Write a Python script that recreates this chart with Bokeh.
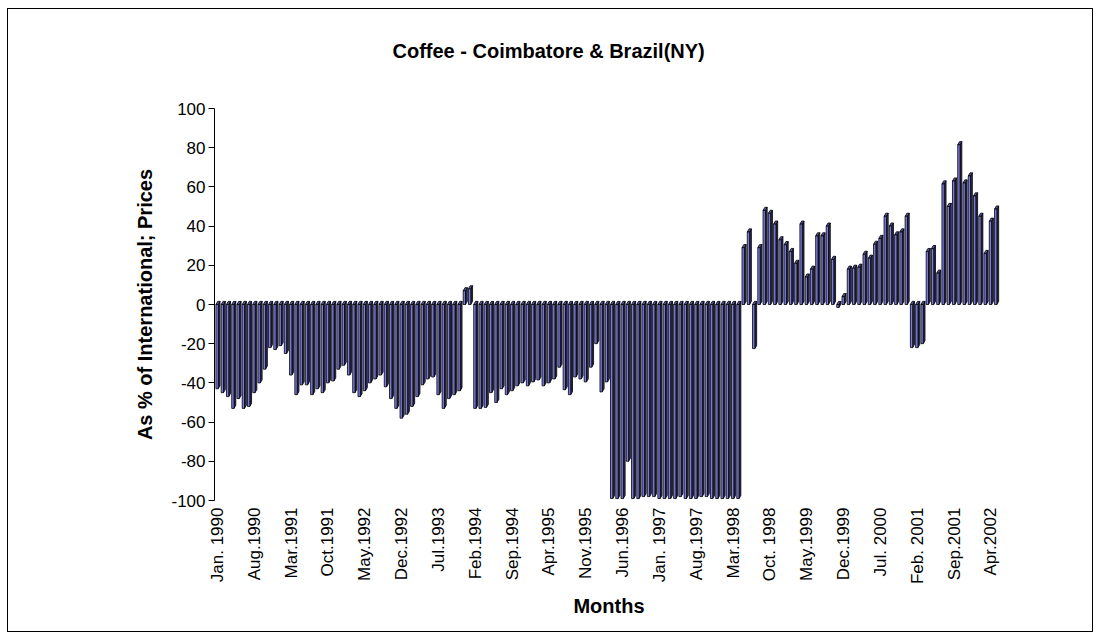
import math
from bokeh.plotting import figure
from bokeh.models import FixedTicker, Range1d, InlineStyleSheet, Title
from bokeh.embed import file_html
from bokeh.resources import INLINE

# Monthly values, Jan 1990 .. May 2002 (domestic price as % of international)
v1990 = [-43, -45, -47, -53, -48, -53, -52, -45, -40, -33, -22, -23]
v1991 = [-21, -25, -36, -46, -41, -41, -46, -43, -45, -40, -39, -33]
v1992 = [-31, -36, -45, -47, -44, -40, -38, -36, -42, -48, -53, -58]
v1993 = [-56, -52, -47, -41, -38, -37, -46, -53, -48, -46, -44, 7]
v1994 = [8, -53, -53, -52.5, -45, -50, -43, -46, -44, -41.5, -40, -41.5]
v1995 = [-39.5, -38.5, -41.5, -40, -38, -32, -43.5, -46, -37, -38, -39.5, -32]
v1996 = [-20, -44.6, -39.5, -99, -99, -99, -80, -99, -99, -98, -98, -98]
v1997 = [-99, -99, -99, -99, -98, -99, -99, -99, -98, -98, -99, -99]
v1998 = [-99, -99, -99, -99, 29, 37, -22.5, 29, 48, 46.5, 41, 33]
v1999 = [30.5, 27, 21, 41, 14, 18, 35, 35, 40, 23, -1.5, 4]
v2000 = [18, 18.5, 19, 25.6, 23.6, 30.7, 33.7, 45, 40, 35.5, 37, 45]
v2001 = [-22, -22, -20, 27, 28.5, 16, 61.5, 50, 63, 81.5, 62, 65.6]
v2002 = [55.4, 45, 26, 42.5, 48.7]

values = v1990 + v1991 + v1992 + v1993 + v1994 + v1995 + v1996 + v1997 + v1998 + v1999 + v2000 + v2001 + v2002

tick_labels = ["Jan. 1990", "Aug.1990", "Mar.1991", "Oct.1991", "May.1992", "Dec.1992",
               "Jul.1993", "Feb.1994", "Sep.1994", "Apr.1995", "Nov.1995", "Jun.1996",
               "Jan. 1997", "Aug.1997", "Mar.1998", "Oct. 1998", "May.1999", "Dec.1999",
               "Jul. 2000", "Feb. 2001", "Sep.2001", "Apr.2002"]
tick_step = 7
y_ticks = [-100, -80, -60, -40, -20, 0, 20, 40, 60, 80, 100]

FONT = "Liberation Sans"

# 3D bar geometry (in data units)
FL, FR = -0.30, 0.14
DX = 0.34
DY = 1.6

fl, fr, fb, ft = [], [], [], []
side_xs, side_ys, top_xs, top_ys = [], [], [], []
for i, v in enumerate(values):
    l, r = i + FL, i + FR
    b, t = min(0, v), max(0, v)
    fl.append(l); fr.append(r); fb.append(b); ft.append(t)
    side_xs.append([r, r, r + DX, r + DX])
    side_ys.append([b, t, t + DY, b + DY])
    top_xs.append([l, r, r + DX, l + DX])
    top_ys.append([t, t, t + DY, t + DY])

p = figure(width=1084, height=622,
           x_range=Range1d(-0.57, 149.4), y_range=Range1d(-100, 100),
           output_backend="svg", toolbar_location=None,
           min_border_left=206, min_border_right=91,
           min_border_top=99, min_border_bottom=133)
p.stylesheets = [InlineStyleSheet(css=":host { margin: 8px 0 0 7px !important; border: 1.5px solid black !important; box-sizing: content-box !important; }")]
p.outline_line_color = None
p.grid.visible = False
p.background_fill_color = "white"
p.border_fill_color = "white"

p.patches(side_xs, side_ys, fill_color="#2c2c58", line_color="black", line_width=0.8)
p.patches(top_xs, top_ys, fill_color="#5858a8", line_color="black", line_width=0.8)
p.quad(left=fl, right=fr, bottom=fb, top=ft, fill_color="#7c7ce0",
       line_color="black", line_width=0.8)

# Title: empty default title, a blank spacer next to the frame, then the real title
p.title.text = ""
p.title.standoff = 0
p.add_layout(Title(text=" ", text_font_size="10px", standoff=24), "above")
p.add_layout(Title(text="Coffee - Coimbatore & Brazil(NY)", text_font=FONT,
                   text_font_size="20px", text_font_style="bold", text_color="black",
                   align="left", offset=178, standoff=20), "above")

# X axis
xa = p.xaxis[0]
xa.ticker = FixedTicker(ticks=[k * tick_step for k in range(len(tick_labels))])
xa.major_label_overrides = {k * tick_step: lab for k, lab in enumerate(tick_labels)}
xa.major_label_orientation = math.pi / 2
xa.axis_line_color = None
xa.major_tick_line_color = None
xa.minor_tick_line_color = None
xa.major_tick_out = 0
xa.major_tick_in = 0
xa.major_label_standoff = 7
xa.major_label_text_font = FONT
xa.major_label_text_font_size = "17px"
xa.major_label_text_color = "black"
xa.axis_label = "Months"
xa.axis_label_text_font = FONT
xa.axis_label_text_font_size = "20px"
xa.axis_label_text_font_style = "bold"
xa.axis_label_text_color = "black"
xa.axis_label_standoff = 8

# Y axis
ya = p.yaxis[0]
ya.ticker = FixedTicker(ticks=y_ticks)
ya.major_label_overrides = {t: str(t) for t in y_ticks}
ya.axis_line_color = "black"
ya.major_tick_line_color = "black"
ya.major_tick_out = 6
ya.major_tick_in = 0
ya.minor_tick_line_color = None
ya.major_label_text_font = FONT
ya.major_label_text_font_size = "17px"
ya.major_label_text_color = "black"
ya.major_label_standoff = 3
ya.axis_label = "As % of International; Prices"
ya.axis_label_text_font = FONT
ya.axis_label_text_font_size = "20px"
ya.axis_label_text_font_style = "bold"
ya.axis_label_text_color = "black"
ya.axis_label_standoff = 12

open("out.html", "w").write(file_html(p, INLINE))
